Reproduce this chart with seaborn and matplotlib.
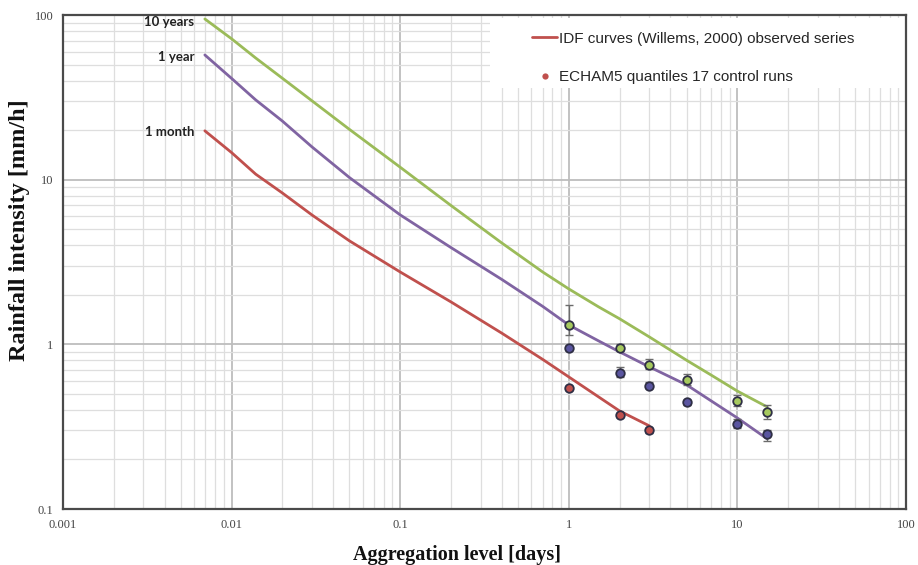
import numpy as np
import pandas as pd
import matplotlib
matplotlib.use("Agg")
import matplotlib.pyplot as plt
from matplotlib.lines import Line2D
from matplotlib.patches import Rectangle
from matplotlib.ticker import LogLocator, FixedLocator, FixedFormatter, NullFormatter
import seaborn as sns

# ---------------- data ----------------
durations = [0.00694, 0.01, 0.0139, 0.02, 0.03, 0.05, 0.1, 0.2, 0.4, 0.7,
             1, 1.5, 2, 3, 5, 7, 10, 15]
idf_10y = [94.6, 71.7, 54.8, 41.3, 30.1, 20.2, 11.9, 6.97, 4.13, 2.75,
           2.17, 1.69, 1.43, 1.11, 0.80, 0.65, 0.52, 0.417]
idf_1y = [57.2, 41.2, 30.5, 22.7, 15.8, 10.3, 6.11, 3.87, 2.48, 1.70,
          1.31, 1.05, 0.90, 0.73, 0.567, 0.453, 0.357, 0.267]
durations_1m = [0.00694, 0.01, 0.0139, 0.02, 0.03, 0.05, 0.1, 0.2, 0.4, 0.7,
                1, 1.5, 2, 3]
idf_1m = [19.8, 14.6, 10.8, 8.3, 6.1, 4.25, 2.75, 1.81, 1.17, 0.81,
          0.634, 0.48, 0.394, 0.32]

pt_days = [1, 2, 3, 5, 10, 15]
q_10y = [1.31, 0.95, 0.75, 0.61, 0.455, 0.387]
q_10y_lo = [1.14, 0.91, 0.71, 0.565, 0.42, 0.35]
q_10y_hi = [1.73, 1.01, 0.81, 0.66, 0.49, 0.43]
q_1y = [0.95, 0.67, 0.56, 0.445, 0.33, 0.287]
q_1y_lo = [0.92, 0.63, 0.54, 0.43, 0.31, 0.26]
q_1y_hi = [0.98, 0.73, 0.59, 0.46, 0.35, 0.30]
pt_days_1m = [1, 2, 3]
q_1m = [0.54, 0.37, 0.30]
q_1m_lo = [0.53, 0.36, 0.29]
q_1m_hi = [0.55, 0.38, 0.31]

curve_names = ["10 years", "1 year", "1 month"]
line_colors = ["#9BBB59", "#8064A2", "#C0504D"]
point_colors = ["#A6C95E", "#5A55A0", "#C0504D"]

x_ticks = [0.001, 0.01, 0.1, 1, 10, 100]
x_ticklabels = ["0.001", "0.01", "0.1", "1", "10", "100"]
y_ticks = [0.1, 1, 10, 100]
y_ticklabels = ["0.1", "1", "10", "100"]

# ---------------- tidy frames ----------------
lines_df = pd.concat([
    pd.DataFrame({"days": durations, "intensity": idf_10y, "rp": "10 years"}),
    pd.DataFrame({"days": durations, "intensity": idf_1y, "rp": "1 year"}),
    pd.DataFrame({"days": durations_1m, "intensity": idf_1m, "rp": "1 month"}),
], ignore_index=True)

pts = [
    (pt_days, q_10y, q_10y_lo, q_10y_hi),
    (pt_days, q_1y, q_1y_lo, q_1y_hi),
    (pt_days_1m, q_1m, q_1m_lo, q_1m_hi),
]

# ---------------- figure ----------------
sns.set_theme(style="white")
fig = plt.figure(figsize=(9.18, 5.65), dpi=100)
ax = fig.add_axes([63 / 918, 56 / 565, (906 - 63) / 918, (509 - 15) / 565])

ax.set_xscale("log")
ax.set_yscale("log")
ax.set_xlim(0.001, 100)
ax.set_ylim(0.1, 100)

# grid
ax.xaxis.set_minor_locator(LogLocator(base=10, subs=np.arange(2, 10)))
ax.yaxis.set_minor_locator(LogLocator(base=10, subs=np.arange(2, 10)))
ax.grid(True, which="major", color="#bdbdbd", lw=1.3, zorder=0)
ax.grid(True, which="minor", color="#dedede", lw=0.9, zorder=0)
ax.set_axisbelow(True)

# white legend backdrop
ax.add_patch(Rectangle((0.5065, 0.852), 0.4935, 0.142, transform=ax.transAxes,
                       facecolor="white", edgecolor="none", zorder=1.5))

sns.lineplot(data=lines_df, x="days", y="intensity", hue="rp",
             hue_order=curve_names, palette=line_colors, estimator=None,
             sort=False, lw=2.0, legend=False, ax=ax, zorder=3)

for (xd, yv, lo, hi), pc in zip(pts, point_colors):
    yv_a = np.array(yv)
    yerr = np.vstack([yv_a - np.array(lo), np.array(hi) - yv_a])
    ax.errorbar(xd, yv, yerr=yerr, fmt="none", ecolor="#6b6b6b",
                elinewidth=1.0, capsize=3, capthick=1.0, zorder=4)
    sns.scatterplot(x=xd, y=yv, color=pc, s=38, edgecolor="#2f2f45",
                    linewidth=1.3, ax=ax, zorder=5, legend=False)

# curve labels
label_y = [idf_10y[0], idf_1y[0], idf_1m[0]]
label_dy = [-2.5, -1.5, -0.8]
for name, yv, dy in zip(curve_names, label_y, label_dy):
    ax.annotate(name, xy=(durations[0], yv), xytext=(-7.5, dy),
                textcoords="offset points", ha="right", va="center",
                fontsize=9.5, fontweight="bold", family="Lato",
                color="#222222", zorder=6)

# ticks
ax.xaxis.set_major_locator(FixedLocator(x_ticks))
ax.xaxis.set_major_formatter(FixedFormatter(x_ticklabels))
ax.xaxis.set_minor_formatter(NullFormatter())
ax.yaxis.set_major_locator(FixedLocator(y_ticks))
ax.yaxis.set_major_formatter(FixedFormatter(y_ticklabels))
ax.yaxis.set_minor_formatter(NullFormatter())
ax.tick_params(axis="both", which="major", direction="out", length=4, width=1,
               color="#555555", labelsize=9, labelcolor="#444444", pad=3)
ax.tick_params(axis="both", which="minor", length=0)
for lab in ax.get_xticklabels() + ax.get_yticklabels():
    lab.set_family("Liberation Serif")

for sp in ax.spines.values():
    sp.set_color("#4a4a4a")
    sp.set_linewidth(1.6)

ax.set_xlabel("Aggregation level [days]", fontsize=14.5, fontweight="bold",
              family="Liberation Serif", color="#111111")
ax.set_ylabel("Rainfall intensity [mm/h]", fontsize=17.5, fontweight="bold",
              family="Liberation Serif", color="#111111")
ax.xaxis.set_label_coords(0.467, -0.072)
ax.yaxis.set_label_coords(-0.039, 0.565)

# legend
handles = [
    Line2D([0], [0], color="#C0504D", lw=2),
    Line2D([0], [0], color="#C0504D", marker="o", lw=0, markersize=4.5,
           markeredgewidth=0),
]
labels = ["IDF curves (Willems, 2000) observed series",
          "ECHAM5 quantiles 17 control runs"]
leg = ax.legend(handles, labels, loc="upper left", bbox_to_anchor=(0.5563, 0.966),
                frameon=False, prop={"family": "Liberation Sans", "size": 11},
                handlelength=1.65, handletextpad=0.12, labelspacing=1.6,
                borderpad=0.0, borderaxespad=0.0)
leg.set_zorder(7)

fig.savefig("out.png", dpi=100)
